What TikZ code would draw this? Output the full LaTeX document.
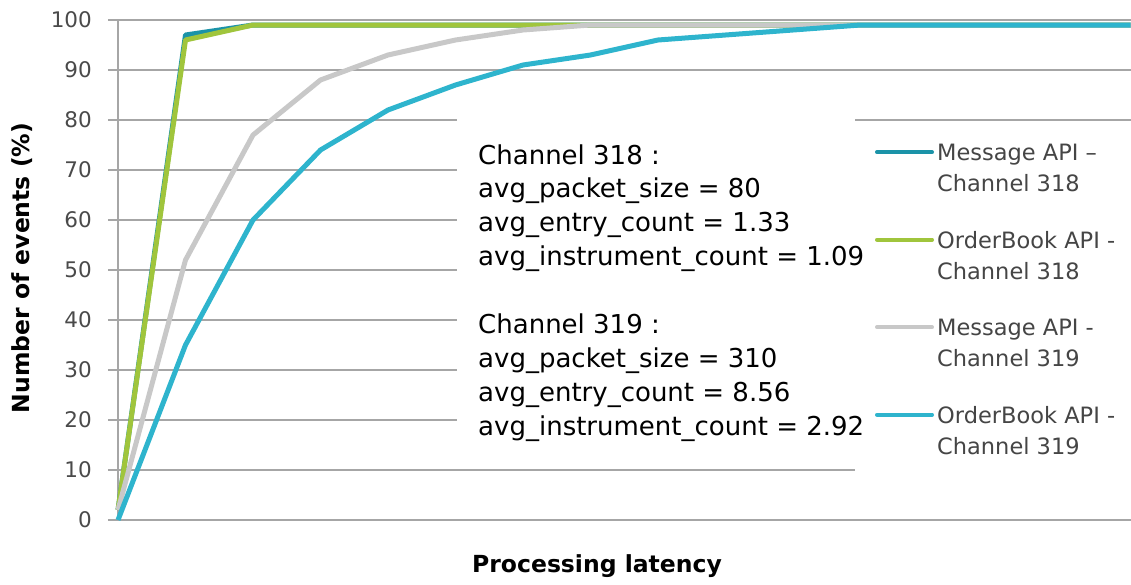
\documentclass[tikz,border=0pt]{standalone}
\usepackage{fontspec}
\setmainfont{DejaVu Sans}
\definecolor{gridgray}{HTML}{A6A6A6}
\definecolor{labelgray}{HTML}{4A4A4A}
\definecolor{legendgray}{HTML}{454545}
\definecolor{msgA}{HTML}{1B93A8}
\definecolor{obA}{HTML}{A0C53C}
\definecolor{msgB}{HTML}{C8C8C8}
\definecolor{obB}{HTML}{2EB4CD}
\tikzset{
  plotarea/.style={shift={(118,520)},x=67.5pt,y=5pt},
  gridline/.style={draw=gridgray,line width=1.5pt},
  series/.style={line width=5pt,line join=round},
  keyline/.style={line width=4pt,line cap=round},
  ticklabel/.style={anchor=east,inner sep=0pt,text=labelgray,font=\fontsize{21.5}{25}\selectfont},
  keytext/.style={anchor=base west,inner sep=0pt,text=legendgray,font=\fontsize{22.5}{27}\selectfont},
  notetext/.style={anchor=base west,inner sep=0pt,font=\fontsize{26}{31}\selectfont},
  axistitle/.style={font=\bfseries\fontsize{23.5}{28}\selectfont}
}
\begin{document}
\begin{tikzpicture}[x=1pt,y=-1pt]
\useasboundingbox (0,0) rectangle (1131,584);
\begin{scope}[plotarea]
% grid and y ticks
\foreach \v in {0,10,...,100}{
  \draw[gridline] (-0.15,\v) -- (15.1,\v);
  \node[ticklabel] (tick\v) at (-0.385,\v) {\v};
}
\draw[gridline] (0,0) -- (0,100);
\end{scope}
% note and legend sit on white
\fill[white] (457,116) rectangle (855,462);
\fill[white] (855,124) rectangle (1131,490);
\begin{scope}[plotarea]
\draw[series,msgA] plot coordinates {(0,2) (1,97) (2,99) (15,99)};
\draw[series,obA] plot coordinates {(0,2) (1,96) (2,99) (15,99)};
\draw[series,msgB] plot coordinates {(0,2) (1,52) (2,77) (3,88) (4,93) (5,96) (6,98) (7,99) (15,99)};
\draw[series,obB] plot coordinates {(0,0) (1,35) (2,60) (3,74) (4,82) (5,87) (6,91) (7,93) (8,96) (9,97) (10,98) (11,99) (15,99)};
\end{scope}
% axis titles
\node[axistitle,rotate=90] (ytitle) at (22,268) {Number of events (\%)};
\node[axistitle] (xtitle) at (597,566) {Processing latency};
% note
\foreach \k/\txt in {0/Channel 318 :,1/avg\_packet\_size = 80,2/avg\_entry\_count = 1.33,3/avg\_instrument\_count = 1.09,
  5/Channel 319 :,6/avg\_packet\_size = 310,7/avg\_entry\_count = 8.56,8/avg\_instrument\_count = 2.92}{
  \node[notetext] (note\k) at (478,164+\k*33.9) {\txt};
}
% legend
\foreach \col/\one/\two [count=\i] in {msgA/Message API –/Channel 318,obA/OrderBook API -/Channel 318,
  msgB/Message API -/Channel 319,obB/OrderBook API -/Channel 319}{
  \pgfmathsetmacro\yb{160.7+(\i-1)*87.5}
  \draw[keyline,\col] (877,\yb-8.5) -- (932,\yb-8.5);
  \node[keytext] (key\i a) at (937,\yb) {\one};
  \node[keytext] (key\i b) at (937,\yb+31) {\two};
}
\end{tikzpicture}
\end{document}
